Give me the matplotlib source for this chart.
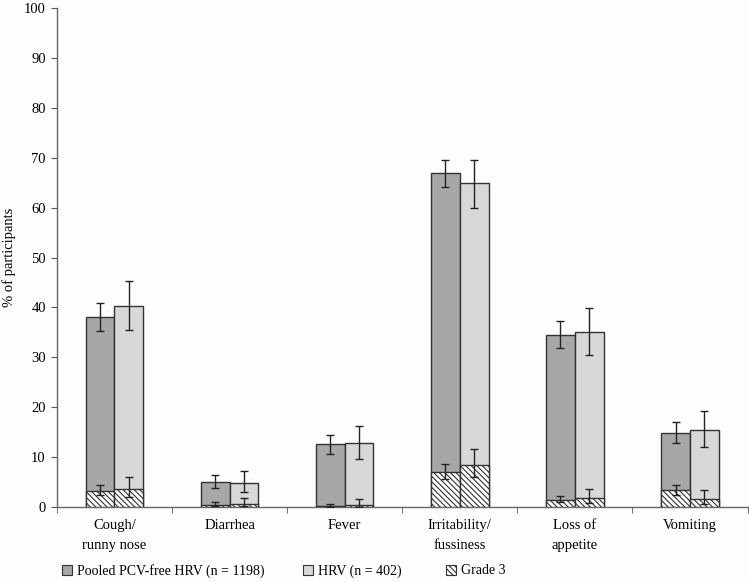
import matplotlib
matplotlib.use("Agg")
import matplotlib.pyplot as plt
import numpy as np
from matplotlib.patches import Patch

plt.rcParams['font.family'] = ['Liberation Serif', 'DejaVu Serif']
plt.rcParams['hatch.linewidth'] = 0.8
plt.rcParams['hatch.color'] = '#333333'

categories = ["Cough/\nrunny nose", "Diarrhea", "Fever", "Irritability/\nfussiness", "Loss of\nappetite", "Vomiting"]

pooled = [38.0, 4.9, 12.6, 66.9, 34.5, 14.9]
pooled_lo = [35.2, 3.7, 10.7, 64.1, 31.9, 12.9]
pooled_hi = [40.8, 6.3, 14.5, 69.5, 37.3, 17.0]

hrv = [40.3, 4.7, 12.8, 64.9, 35.1, 15.4]
hrv_lo = [35.5, 2.9, 9.6, 60.0, 30.4, 12.0]
hrv_hi = [45.3, 7.3, 16.3, 69.5, 39.9, 19.3]

pooled_g3 = [3.2, 0.4, 0.2, 7.0, 1.3, 3.3]
pooled_g3_lo = [2.3, 0.1, 0.0, 5.6, 0.9, 2.3]
pooled_g3_hi = [4.3, 0.9, 0.5, 8.6, 2.1, 4.3]

hrv_g3 = [3.5, 0.5, 0.3, 8.5, 1.8, 1.5]
hrv_g3_lo = [1.9, 0.1, 0.0, 5.9, 0.7, 0.6]
hrv_g3_hi = [5.9, 1.7, 1.5, 11.6, 3.5, 3.3]

legend_labels = ["Pooled PCV-free HRV (n = 1198)", "HRV (n = 402)", "Grade 3"]

dark = "#a7a7a7"
light = "#d8d8d8"
edge = "#333333"
hatch = "\\\\\\\\\\\\"
fs = 10.5

fig = plt.figure(figsize=(7.49, 5.82), dpi=100)
fig.patch.set_facecolor("#fdfdfd")
ax = fig.add_axes([0.076, 0.129, 0.922, 0.857])
ax.set_facecolor("#fdfdfd")

x = np.arange(len(categories))
w = 0.25

def errs(v, lo, hi):
    v = np.array(v); return [v - np.array(lo), np.array(hi) - v]

ekw = dict(fmt='none', ecolor="#222222", elinewidth=1.0, capsize=3.2, capthick=1.0, zorder=5)

ax.bar(x - w/2, pooled, w, color=dark, edgecolor=edge, linewidth=1.0, zorder=2)
ax.bar(x + w/2, hrv, w, color=light, edgecolor=edge, linewidth=1.0, zorder=2)
ax.bar(x - w/2, pooled_g3, w, color="white", edgecolor=edge, hatch=hatch, linewidth=1.0, zorder=3)
ax.bar(x + w/2, hrv_g3, w, color="white", edgecolor=edge, hatch=hatch, linewidth=1.0, zorder=3)

ax.errorbar(x - w/2, pooled, yerr=errs(pooled, pooled_lo, pooled_hi), **ekw)
ax.errorbar(x + w/2, hrv, yerr=errs(hrv, hrv_lo, hrv_hi), **ekw)
ax.errorbar(x - w/2, pooled_g3, yerr=errs(pooled_g3, pooled_g3_lo, pooled_g3_hi), **ekw)
ax.errorbar(x + w/2, hrv_g3, yerr=errs(hrv_g3, hrv_g3_lo, hrv_g3_hi), **ekw)

ax.set_xlim(-0.5, len(categories) - 0.5)
ax.set_ylim(0, 100)
ax.set_yticks(np.arange(0, 101, 10))
ax.set_xticks(x)
ax.set_xticklabels(categories, fontsize=fs, linespacing=1.7)
ax.tick_params(axis='x', which='major', length=0, pad=9)
ax.set_xticks(np.arange(-0.5, len(categories), 1.0), minor=True)
ax.tick_params(axis='x', which='minor', length=4, direction='out', color="#555555")
ax.tick_params(axis='y', labelsize=fs, length=4, color="#555555", pad=4)
ax.set_ylabel("% of participants", fontsize=fs, labelpad=6)
for s in ['top', 'right']:
    ax.spines[s].set_visible(False)
for s in ['left', 'bottom']:
    ax.spines[s].set_color("#666666")
    ax.spines[s].set_linewidth(1.0)

handles = [Patch(facecolor=dark, edgecolor=edge, linewidth=0.8),
           Patch(facecolor=light, edgecolor=edge, linewidth=0.8),
           Patch(facecolor="white", edgecolor=edge, hatch=hatch, linewidth=0.8)]
xpos = [62 / 749, 303 / 749, 446 / 749]
for h, lab, xp in zip(handles, legend_labels, xpos):
    lg = fig.legend([h], [lab], loc='center left', bbox_to_anchor=(xp, 0.019),
                    frameon=False, fontsize=10, handlelength=0.75, handleheight=0.75,
                    handletextpad=0.35, borderpad=0, borderaxespad=0)

fig.savefig("out.png", dpi=100, facecolor=fig.get_facecolor())
